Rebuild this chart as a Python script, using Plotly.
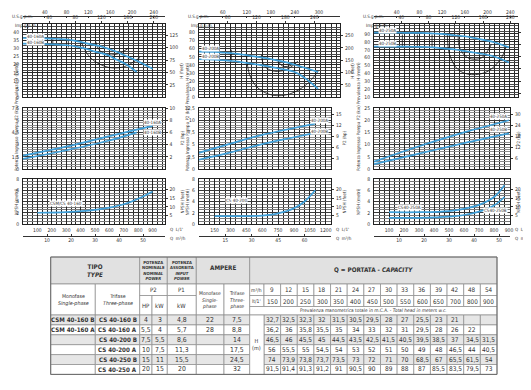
import plotly.graph_objects as go

# ---------------- data ----------------
Q_m3h = [9, 12, 15, 18, 21, 24, 27, 30, 33, 36, 39, 42, 48, 54]
Q_lmin = [150, 200, 250, 300, 350, 400, 450, 500, 550, 600, 650, 700, 800, 900]

models_mono = ["CSM 40-160 B", "CSM 40-160 A", "", "", "", ""]
models_tri = ["CS 40-160 B", "CS 40-160 A", "CS 40-200 B", "CS 40-200 A", "CS 40-250 B", "CS 40-250 A"]
p2_hp = ["4", "5,5", "7,5", "10", "15", "20"]
p2_kw = ["3", "4", "5,5", "7,5", "11", "15"]
p1_kw = ["4,8", "5,7", "8,6", "11,3", "15,5", "20"]
amp_mono = ["22", "28", "", "", "", ""]
amp_tri = ["7,5", "8,8", "14", "17,5", "24,5", "32"]

head_160B = [32.7, 32.5, 32.3, 32, 31.5, 30.5, 29.5, 28, 27, 25.5, 23, 21, None, None]
head_160A = [36.2, 36, 35.8, 35.5, 35, 34, 33, 32, 31, 29.5, 28, 26, 22, None]
head_200B = [46.5, 46, 45.5, 45, 44.5, 43.5, 42.5, 41.5, 40.5, 39.5, 38.5, 37, 34.5, 31.5]
head_200A = [56, 55.5, 55, 54.5, 54, 53, 52, 51, 50, 49, 48, 46.5, 44, 40.5]
head_250B = [74, 73.9, 73.8, 73.7, 73.5, 73, 72, 71, 70, 68.5, 67, 65.5, 61.5, 54]
head_250A = [91.5, 91.4, 91.3, 91.2, 91, 90.5, 90, 89, 88, 87, 85.5, 83.5, 79.5, 73]
head_rows = [head_160B, head_160A, head_200B, head_200A, head_250B, head_250A]

# H-Q curves (l/min, m)
hq_160B = [0, 150, 200, 250, 300, 350, 400, 450, 500, 550, 600, 650, 700, 790]
hh_160B = [32.9, 32.7, 32.5, 32.3, 32, 31.5, 30.5, 29.5, 28, 27, 25.5, 23, 21, 15.5]
hq_160A = [0, 150, 200, 250, 300, 350, 400, 450, 500, 550, 600, 650, 700, 800, 900]
hh_160A = [36.4, 36.2, 36, 35.8, 35.5, 35, 34, 33, 32, 31, 29.5, 28, 26, 22, 17.5]
hq_200B = [0, 150, 200, 250, 300, 350, 400, 450, 500, 550, 600, 650, 700, 800, 900, 1000, 1127]
hh_200B = [47, 46.5, 46, 45.5, 45, 44.5, 43.5, 42.5, 41.5, 40.5, 39.5, 38.5, 37, 34.5, 31.5, 24, 10.5]
hq_200A = [0, 150, 200, 250, 300, 350, 400, 450, 500, 550, 600, 650, 700, 800, 900, 1127]
hh_200A = [56.5, 56, 55.5, 55, 54.5, 54, 53, 52, 51, 50, 49, 48, 46.5, 44, 40.5, 31.3]
hq_250 = [0, 150, 200, 250, 300, 350, 400, 450, 500, 550, 600, 650, 700, 800, 900]
hh_250B = [74.1, 74, 73.9, 73.8, 73.7, 73.5, 73, 72, 71, 70, 68.5, 67, 65.5, 61.5, 54]
hh_250A = [91.6, 91.5, 91.4, 91.3, 91.2, 91, 90.5, 90, 89, 88, 87, 85.5, 83.5, 79.5, 73]

# power curves P2 (kW)
pq_160A = [0, 300, 600, 900]
pp_160A = [1.65, 2.75, 4.05, 5.3]
pq_160B = [0, 300, 600, 790]
pp_160B = [1.25, 2.3, 3.5, 4.5]
pq_200 = [0, 300, 600, 900, 1100]
pp_200A = [3.3, 5.2, 7.0, 8.4, 9.3]
pp_200B = [1.9, 3.4, 5.1, 6.5, 7.4]
pq_250 = [0, 300, 600, 900]
pp_250A = [3.0, 9.3, 15.0, 20.0]
pp_250B = [2.0, 6.3, 10.6, 14.6]

# NPSH curves (m)
nq_160 = [100, 300, 500, 600, 700, 800, 900]
nn_160 = [2.0, 2.1, 2.5, 2.9, 3.5, 4.5, 5.8]
nq_200 = [150, 450, 600, 750, 900, 1000, 1100]
nn_200 = [1.4, 1.4, 1.5, 1.9, 2.8, 4.0, 6.0]
nq_250 = [100, 300, 500, 600, 700, 800, 870]
nn_250A = [2.1, 2.1, 2.3, 2.7, 3.4, 4.8, 6.9]
nn_250B = [1.1, 1.1, 1.3, 1.6, 2.2, 3.3, 4.8]

# efficiency iso-lines on H-Q charts
e160_v1_q = [207, 207]; e160_v1_h = [35.7, 31.6]
e160_v2_q = [315, 315]; e160_v2_h = [36.3, 30.6]
e160_a1_q = [403, 443, 500, 593, 685, 755, 813]; e160_a1_h = [34.3, 27.1, 22.0, 18.4, 18.4, 21.0, 24.5]
e160_a2_q = [505, 528, 593, 674, 732]; e160_a2_h = [34.3, 29.2, 26.1, 27.1, 30.2]
e200_v_q = [307, 307]; e200_v_h = [58.8, 44.4]
e200_a1_q = [449, 480, 559, 701, 859, 1016, 1127]; e200_a1_h = [54.7, 28, 11.5, 2.5, 4.1, 15.6, 32]
e200_a2_q = [591, 622, 717, 827, 922]; e200_a2_h = [52.7, 38.3, 32.1, 34.2, 42.4]
e200_a3_q = [748, 796, 874, 937]; e200_a3_h = [44.4, 38.3, 39.5, 44.4]
e250_v1_q = [189, 189]; e250_v2_q = [289, 289]; e250_v3_q = [387, 387]; e250_v_h = [89.2, 73.2]
e250_a1_q = [489, 504, 560, 649, 760, 849, 882]; e250_a1_h = [89.2, 63.9, 45, 38.6, 42.9, 59.7, 74.5]
e250_a2_q = [560, 571, 627, 716, 782]; e250_a2_h = [90, 72.3, 59.7, 59.7, 76.6]

# ---------------- layout helpers ----------------
W, HT = 531, 390
def fx(p): return p / W
def fy(p): return 1 - p / HT
def lk(kind, n): return f"{kind}axis" + ("" if n == 1 else str(n))
def rf(kind, n): return kind + ("" if n == 1 else str(n))
def fmt(v): return ("%g" % v).replace(".", ",")

FONT = "Liberation Sans Narrow, Arial Narrow, DejaVu Sans Condensed, Liberation Sans, sans-serif"
TXT = "#333333"
BLUE = "#3f9fd8"
tf = dict(family=FONT, size=5, color=TXT)

YD = {"H": (16, 89.3), "P": (100, 161), "N": (171, 216)}
CONV = {"H": 3.2808, "P": 1.341, "N": 3.2808}
HMAJ = {"H": "#2a2a2a", "P": "#3a3a3a", "N": "#3a3a3a"}
HMIN = {"H": "#4a4a4a", "P": "#8c8c8c", "N": "#7a7a7a"}
VCOL = "#262626"

cols = [
    dict(x0=15.0, k=0.144, xrH=156.5, xrL=156.5, qticks=list(range(100, 1000, 100)), qstep=100 / 3,
         m3=[10, 20, 30, 40, 50], us=[40, 80, 120, 160, 200, 240], imp=[40, 80, 120, 160, 200],
         Hr=[0, 45], Hticks=list(range(0, 45, 5)), Hminor=5 / 3, Hright=[25, 50, 75, 100, 125],
         Pr=[0, 7.5], Pticks=[0, 1.5, 3, 4.5, 6, 7.5], Pminor=0.3, Pright=[2, 4, 6, 8, 10],
         Nr=[0, 8], Nticks=[0, 2, 4, 6, 8], Nminor=0.5, Nright=[5, 10, 15, 20]),
    dict(x0=190.8, k=0.1058, xrH=332.0, xrL=323.0, qticks=list(range(150, 1350, 150)), qstep=50,
         m3=[15, 30, 45, 60, 75], us=[60, 120, 180, 240, 300], imp=[60, 120, 180, 240],
         Hr=[0, 90.5], Hticks=list(range(0, 90, 10)), Hminor=10 / 3, Hright=[50, 100, 150, 200, 250],
         Pr=[0, 12.5], Pticks=[0, 2.5, 5, 7.5, 10, 12.5], Pminor=0.5, Pright=[3, 6, 9, 12, 15],
         Nr=[0, 8], Nticks=[0, 2, 4, 6, 8], Nminor=0.5, Nright=[5, 10, 15, 20]),
    dict(x0=366.0, k=0.15, xrH=510.0, xrL=502.0, qticks=list(range(100, 1000, 100)), qstep=100 / 3,
         m3=[10, 20, 30, 40, 50], us=[40, 80, 120, 160, 200, 240], imp=[40, 80, 120, 160, 200],
         Hr=[10, 102.5], Hticks=list(range(10, 100, 10)), Hminor=10 / 3, Hright=[50, 100, 150, 200, 250, 300],
         Pr=[0, 25], Pticks=[0, 5, 10, 15, 20, 25], Pminor=1, Pright=[6, 12, 18, 24, 30],
         Nr=[0, 8], Nticks=[0, 2, 4, 6, 8], Nminor=0.5, Nright=[5, 10, 15, 20]),
]

curves = [
    {"H": [(hq_160A, hh_160A), (hq_160B, hh_160B)],
     "P": [(pq_160A, pp_160A), (pq_160B, pp_160B)],
     "N": [(nq_160, nn_160)],
     "E": [(e160_v1_q, e160_v1_h), (e160_v2_q, e160_v2_h), (e160_a1_q, e160_a1_h), (e160_a2_q, e160_a2_h)]},
    {"H": [(hq_200A, hh_200A), (hq_200B, hh_200B)],
     "P": [(pq_200, pp_200A), (pq_200, pp_200B)],
     "N": [(nq_200, nn_200)],
     "E": [(e200_v_q, e200_v_h), (e200_a1_q, e200_a1_h), (e200_a2_q, e200_a2_h), (e200_a3_q, e200_a3_h)]},
    {"H": [(hq_250, hh_250A), (hq_250, hh_250B)],
     "P": [(pq_250, pp_250A), (pq_250, pp_250B)],
     "N": [(nq_250, nn_250A), (nq_250, nn_250B)],
     "E": [(e250_v1_q, e250_v_h), (e250_v2_q, e250_v_h), (e250_v3_q, e250_v_h),
           (e250_a1_q, e250_a1_h), (e250_a2_q, e250_a2_h)]},
]

# curve labels: (kind, x, y, text, xanchor)
labels = [
    [("H", 20, 37.2, "40-160A", "left"), ("H", 20, 33.9, "40-160B", "left"),
     ("P", None, 5.7, "40-160A", "right"), ("P", None, 4.5, "40-160B", "right"),
     ("N", 180, 3.6, "CSM/CS 40-160", "left")],
    [("H", 20, 60, "40-200A", "left"), ("H", 20, 50.5, "40-200B", "left"),
     ("P", None, 10.0, "40-200A", "right"), ("P", None, 7.7, "40-200B", "right"),
     ("N", 250, 4.2, "CS 40-200", "left")],
    [("H", 25, 94.5, "40-250A", "left"), ("H", 25, 77.5, "40-250B", "left"),
     ("P", None, 21.5, "40-250A", "right"), ("P", None, 16.2, "40-250B", "right"),
     ("N", 150, 3.0, "CS40-250A", "left"), ("N", None, 2.4, "CS40-250B", "right")],
]

titles = {"H": ("Prevalenza H (metri)", "H (feet)"),
          "P": ("Potenza Ingresso Pompa P2 (kw)", "P2 (hp)"),
          "N": ("NPSH (metri)", "NPSH (feet)")}

layout = dict(width=W, height=HT, margin=dict(l=0, r=0, t=0, b=0, autoexpand=False), paper_bgcolor="white",
              plot_bgcolor="white", showlegend=False)
traces, annotations, shapes = [], [], []

def empty(xa, ya):
    traces.append(go.Scatter(x=[None], y=[None], xaxis=xa, yaxis=ya, showlegend=False, hoverinfo="skip"))

for c, col in enumerate(cols):
    x0, k = col["x0"], col["k"]
    for r, kind in enumerate(["H", "P", "N"]):
        i = c * 3 + r + 1
        xr = col["xrH"] if kind == "H" else col["xrL"]
        qmax = (xr - x0) / k
        ytop, ybot = YD[kind]
        yr = col[kind + "r"]
        layout[lk("x", i)] = dict(
            domain=[fx(x0), fx(xr)], range=[0, qmax], anchor=rf("y", i), automargin=False,
            tickmode="array", tickvals=col["qticks"], ticktext=[str(v) for v in col["qticks"]],
            showticklabels=(kind == "N"), ticks="", showgrid=True, gridcolor=VCOL, gridwidth=0.9,
            minor=dict(tickmode="linear", tick0=0, dtick=col["qstep"], showgrid=True, gridcolor=VCOL, gridwidth=0.9),
            showline=True, mirror=True, linecolor="#222", linewidth=1, zeroline=False,
            tickfont=tf, fixedrange=True, ticklabelstandoff=1)
        layout[lk("y", i)] = dict(
            domain=[fy(ybot), fy(ytop)], range=yr, anchor=rf("x", i), automargin=False,
            tickmode="array", tickvals=col[kind + "ticks"], ticktext=[fmt(v) for v in col[kind + "ticks"]],
            showgrid=True, gridcolor=HMAJ[kind], gridwidth=0.9,
            minor=dict(tickmode="linear", tick0=yr[0], dtick=col[kind + "minor"], showgrid=True,
                       gridcolor=HMIN[kind], gridwidth=0.9),
            showline=True, mirror=True, linecolor="#222", linewidth=1, zeroline=False, ticks="",
            tickfont=tf, fixedrange=True, ticklabelstandoff=2)
        j = 9 + i
        cv = CONV[kind]
        layout[lk("y", j)] = dict(
            overlaying=rf("y", i), anchor=rf("x", i), side="right", range=[yr[0] * cv, yr[1] * cv],
            tickmode="array", tickvals=col[kind + "right"], showgrid=False, zeroline=False, automargin=False,
            ticks="outside", ticklen=2, tickcolor="#333", tickfont=tf, showline=False, fixedrange=True,
            ticklabelstandoff=1)
        empty(rf("x", i), rf("y", j))

        lt, rt = titles[kind]
        annotations.append(dict(xref="paper", yref="paper", x=fx(x0 - 11), y=fy((ytop + ybot) / 2),
                                text=lt, textangle=-90, showarrow=False, font=dict(family=FONT, size=4.5, color=TXT)))
        annotations.append(dict(xref="paper", yref="paper", x=fx(xr + 13), y=fy((ytop + ybot) / 2),
                                text=rt, textangle=-90, showarrow=False, font=dict(family=FONT, size=4.5, color=TXT)))

        if kind == "H":
            for (q, h) in curves[c]["E"]:
                traces.append(go.Scatter(x=q, y=h, mode="lines", line=dict(color="#111", width=0.8, shape="spline"),
                                         xaxis=rf("x", i), yaxis=rf("y", i), hoverinfo="skip"))
        for (q, v) in curves[c][kind]:
            traces.append(go.Scatter(x=q, y=v, mode="lines", line=dict(color=BLUE, width=1.7, shape="spline"),
                                     xaxis=rf("x", i), yaxis=rf("y", i), hoverinfo="skip"))
        for (kk, lx, ly, s, anc) in labels[c]:
            if kk != kind:
                continue
            annotations.append(dict(xref=rf("x", i), yref=rf("y", i), x=(qmax * 0.985 if lx is None else lx), y=ly,
                                    text=s, showarrow=False, xanchor=anc, bgcolor="white",
                                    font=dict(family=FONT, size=4.5, color=TXT), borderpad=0))

        if kind == "H":
            nU, nI = 28 + c, 31 + c
            layout[lk("x", nU)] = dict(overlaying=rf("x", i), anchor="free", position=fy(7.5), side="top",
                                       range=[0, qmax / 3.785], tickmode="array", tickvals=col["us"],
                                       showline=True, linecolor="#333", linewidth=0.8, ticks="inside", ticklen=2,
                                       tickcolor="#333", showgrid=False, zeroline=False, tickfont=tf,
                                       fixedrange=True, ticklabelstandoff=0, automargin=False)
            layout[lk("x", nI)] = dict(overlaying=rf("x", i), anchor=rf("y", i), side="top",
                                       range=[0, qmax / 4.546], tickmode="array", tickvals=col["imp"],
                                       showline=False, ticks="outside", ticklen=2, tickcolor="#333",
                                       showgrid=False, zeroline=False, tickfont=tf, fixedrange=True,
                                       ticklabelstandoff=0, automargin=False)
            empty(rf("x", nU), rf("y", i))
            empty(rf("x", nI), rf("y", i))
            annotations.append(dict(xref="paper", yref="paper", x=fx(x0 - 13), y=fy(4.5), xanchor="left",
                                    text="U.S.g.p.m.", showarrow=False, font=dict(family=FONT, size=4.5, color=TXT)))
            annotations.append(dict(xref="paper", yref="paper", x=fx(x0 - 10), y=fy(13), xanchor="left",
                                    text="Imp.g.p.m.", showarrow=False, font=dict(family=FONT, size=4.5, color=TXT)))
        if kind == "N":
            nM = 34 + c
            layout[lk("x", nM)] = dict(overlaying=rf("x", i), anchor="free", position=fy(227.5), side="bottom",
                                       range=[0, qmax * 0.06], tickmode="array", tickvals=col["m3"],
                                       showline=True, linecolor="#333", linewidth=0.8, ticks="inside", ticklen=2,
                                       tickcolor="#333", showgrid=False, zeroline=False, tickfont=tf,
                                       fixedrange=True, ticklabelstandoff=0, automargin=False)
            empty(rf("x", nM), rf("y", i))
            annotations.append(dict(xref="paper", yref="paper", x=fx(xr + 3), y=fy(221), xanchor="left",
                                    text="Q  L/1'", showarrow=False, font=dict(family=FONT, size=4.5, color=TXT)))
            annotations.append(dict(xref="paper", yref="paper", x=fx(xr + 3), y=fy(230), xanchor="left",
                                    text="Q  m³/h", showarrow=False, font=dict(family=FONT, size=4.5, color=TXT)))

# ---------------- table ----------------
TL = [42.7, 87.3, 131.7, 144.0, 159.3, 188.3, 216.0, 241.7, 256.0]
QL, QR = 256.0, 489.0
qw = (QR - QL) / len(Q_m3h)
RY = [249.0, 276.0, 287.5, 298.5, 307.0]
ROWH = 9.9
TB_BOTTOM = RY[-1] + 6 * ROWH
HDR = "#e1e1e1"
GREY = "#e6e6e6"
BORDER = "#8a8a8a"

layout["xaxis40"] = dict(domain=[fx(40), fx(492)], range=[40, 492], visible=False, fixedrange=True,
                         anchor="y40", automargin=False)
layout["yaxis40"] = dict(domain=[fy(372), fy(246)], range=[372, 246], visible=False, fixedrange=True,
                         anchor="x40", automargin=False)
empty("x40", "y40")

def rect(x0, x1, y0, y1, fill="white"):
    shapes.append(dict(type="rect", xref="x40", yref="y40", x0=x0, x1=x1, y0=y0, y1=y1,
                       fillcolor=fill, line=dict(color=BORDER, width=0.7), layer="above"))

def ttext(x, y, s, size=6.8, color=TXT):
    annotations.append(dict(xref="x40", yref="y40", x=x, y=y, text=s, showarrow=False,
                            font=dict(family=FONT, size=size, color=color), xanchor="center",
                            yanchor="middle", align="center"))

def cellt(x0, x1, y0, y1, s, fill="white", size=6.8, ty=None):
    rect(x0, x1, y0, y1, fill)
    if s:
        ttext((x0 + x1) / 2, (y0 + y1) / 2 if ty is None else ty, s, size)

cellt(TL[0], TL[2], RY[0], RY[1], "<b>TIPO</b><br><b><i>TYPE</i></b>", HDR, 6.3)
cellt(TL[2], TL[4], RY[0], RY[1], "<b>POTENZA<br>NOMINALE</b><br><b><i>NOMINAL<br>POWER</i></b>", HDR, 4.2)
cellt(TL[4], TL[5], RY[0], RY[1], "<b>POTENZA<br>ASSORBITA</b><br><b><i>INPUT<br>POWER</i></b>", HDR, 4.2)
cellt(TL[5], TL[7], RY[0], RY[1], "<b>AMPERE</b>", HDR, 6.3, ty=259)
cellt(TL[7], QR, RY[0], RY[1], "<b>Q = PORTATA - <i>CAPACITY</i></b>", HDR, 6.3, ty=261)
cellt(TL[0], TL[1], RY[1], RY[4], "Monofase<br><i>Single-phase</i>", "white", 5.3)
cellt(TL[1], TL[2], RY[1], RY[4], "Trifase<br><i>Three-phase</i>", "white", 5.3)
cellt(TL[2], TL[4], RY[1], RY[2], "P2", "white", 6)
cellt(TL[4], TL[5], RY[1], RY[2], "P1", "white", 6)
cellt(TL[2], TL[3], RY[2], RY[4], "HP", "white", 6)
cellt(TL[3], TL[4], RY[2], RY[4], "kW", "white", 6)
cellt(TL[4], TL[5], RY[2], RY[4], "kW", "white", 6)
cellt(TL[5], TL[6], RY[1], RY[4], "Monofase<br><i>Single-<br>phase</i>", "white", 5)
cellt(TL[6], TL[7], RY[1], RY[4], "Trifase<br><i>Three-<br>phase</i>", "white", 5)
cellt(TL[7], TL[8], RY[1], RY[2], "m³/h", "white", 5)
cellt(TL[7], TL[8], RY[2], RY[3], "lt/1'", "white", 5)
for jj in range(len(Q_m3h)):
    a = QL + jj * qw
    cellt(a, a + qw, RY[1], RY[2], str(Q_m3h[jj]), "white", 6.3)
    cellt(a, a + qw, RY[2], RY[3], str(Q_lmin[jj]), "white", 6.3)
cellt(TL[7], QR, RY[3], RY[4],
      "Prevalenza manometrica totale in m.C.A. - <i>Total head in meters w.c.</i>", "white", 4.8)

for rr in range(6):
    y0 = RY[4] + rr * ROWH
    y1 = y0 + ROWH
    fill = GREY if rr % 2 == 0 else "white"
    cellt(TL[0], TL[1], y0, y1, f"<b>{models_mono[rr]}</b>" if models_mono[rr] else "", fill, 6.2)
    cellt(TL[1], TL[2], y0, y1, f"<b>{models_tri[rr]}</b>", fill, 6.2)
    cellt(TL[2], TL[3], y0, y1, p2_hp[rr], fill)
    cellt(TL[3], TL[4], y0, y1, p2_kw[rr], fill)
    cellt(TL[4], TL[5], y0, y1, p1_kw[rr], fill)
    cellt(TL[5], TL[6], y0, y1, amp_mono[rr], fill)
    cellt(TL[6], TL[7], y0, y1, amp_tri[rr], fill)
    for jj, v in enumerate(head_rows[rr]):
        a = QL + jj * qw
        cellt(a, a + qw, y0, y1, fmt(v) if v is not None else "", fill, 6.5)
cellt(TL[7], TL[8], RY[4], TB_BOTTOM, "H<br>(m)", "white", 5.5)
shapes.append(dict(type="rect", xref="x40", yref="y40", x0=TL[0], x1=QR, y0=RY[0], y1=TB_BOTTOM,
                   fillcolor="rgba(0,0,0,0)", line=dict(color="#6a6a6a", width=1), layer="above"))

layout["annotations"] = annotations
layout["shapes"] = shapes
fig = go.Figure(data=traces, layout=layout)
fig.write_html("out.html")
